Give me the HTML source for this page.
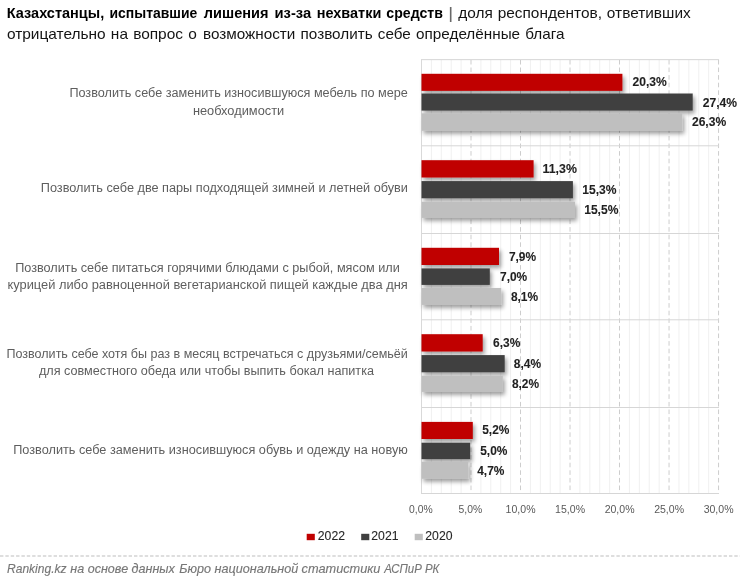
<!DOCTYPE html>
<html lang="ru"><head><meta charset="utf-8"><title>Казахстанцы, испытавшие лишения из-за нехватки средств</title>
<style>
html,body{margin:0;padding:0;background:#fff;}
body{width:740px;height:582px;overflow:hidden;font-family:"Liberation Sans", sans-serif;}
svg{display:block;font-family:"Liberation Sans", sans-serif;}
</style></head><body>
<svg width="740" height="582" viewBox="0 0 740 582">
<defs>
<filter id="sh" x="-25%" y="-60%" width="160%" height="260%"><feGaussianBlur in="SourceAlpha" stdDeviation="2.3"/><feOffset dx="2" dy="2.8"/><feComponentTransfer><feFuncA type="linear" slope="0.38"/></feComponentTransfer><feMerge><feMergeNode/><feMergeNode in="SourceGraphic"/></feMerge></filter>
</defs>
<rect width="740" height="582" fill="#fff"/>
<text x="6.80" y="18.10" font-size="14.2" text-anchor="start" font-weight="bold" font-style="normal" fill="#000" textLength="97.40" lengthAdjust="spacingAndGlyphs">Казахстанцы,</text>
<text x="109.50" y="18.10" font-size="14.2" text-anchor="start" font-weight="bold" font-style="normal" fill="#000" textLength="87.80" lengthAdjust="spacingAndGlyphs">испытавшие</text>
<text x="203.80" y="18.10" font-size="14.2" text-anchor="start" font-weight="bold" font-style="normal" fill="#000" textLength="64.70" lengthAdjust="spacingAndGlyphs">лишения</text>
<text x="274.50" y="18.10" font-size="14.2" text-anchor="start" font-weight="bold" font-style="normal" fill="#000" textLength="36.70" lengthAdjust="spacingAndGlyphs">из-за</text>
<text x="316.70" y="18.10" font-size="14.2" text-anchor="start" font-weight="bold" font-style="normal" fill="#000" textLength="64.60" lengthAdjust="spacingAndGlyphs">нехватки</text>
<text x="386.30" y="18.10" font-size="14.2" text-anchor="start" font-weight="bold" font-style="normal" fill="#000" textLength="56.60" lengthAdjust="spacingAndGlyphs">средств</text>
<text x="448.50" y="18.90" font-size="16.7" text-anchor="start" font-weight="normal" font-style="normal" fill="#6a6a6a" stroke="#6a6a6a" stroke-width="0.2">|</text>
<text x="458.20" y="18.10" font-size="14.2" text-anchor="start" font-weight="normal" font-style="normal" fill="#141414" textLength="232.55" lengthAdjust="spacingAndGlyphs" word-spacing="0.6">доля респондентов, ответивших</text>
<text x="6.90" y="39.10" font-size="14.2" text-anchor="start" font-weight="normal" font-style="normal" fill="#141414" textLength="189.90" lengthAdjust="spacingAndGlyphs" word-spacing="0.8">отрицательно на вопрос о</text>
<text x="203.00" y="39.10" font-size="14.2" text-anchor="start" font-weight="normal" font-style="normal" fill="#141414" textLength="361.50" lengthAdjust="spacingAndGlyphs" word-spacing="0.9">возможности позволить себе определённые блага</text>
<g><line x1="431.40" y1="59.9" x2="431.40" y2="493.5" stroke="#f0f0f0" stroke-width="1"/>
<line x1="441.30" y1="59.9" x2="441.30" y2="493.5" stroke="#f0f0f0" stroke-width="1"/>
<line x1="451.20" y1="59.9" x2="451.20" y2="493.5" stroke="#f0f0f0" stroke-width="1"/>
<line x1="461.11" y1="59.9" x2="461.11" y2="493.5" stroke="#f0f0f0" stroke-width="1"/>
<line x1="471.01" y1="59.9" x2="471.01" y2="493.5" stroke="#cdcdcd" stroke-width="1" stroke-dasharray="4.6 3"/>
<line x1="480.91" y1="59.9" x2="480.91" y2="493.5" stroke="#f0f0f0" stroke-width="1"/>
<line x1="490.81" y1="59.9" x2="490.81" y2="493.5" stroke="#f0f0f0" stroke-width="1"/>
<line x1="500.71" y1="59.9" x2="500.71" y2="493.5" stroke="#f0f0f0" stroke-width="1"/>
<line x1="510.62" y1="59.9" x2="510.62" y2="493.5" stroke="#f0f0f0" stroke-width="1"/>
<line x1="520.52" y1="59.9" x2="520.52" y2="493.5" stroke="#cdcdcd" stroke-width="1" stroke-dasharray="4.6 3"/>
<line x1="530.42" y1="59.9" x2="530.42" y2="493.5" stroke="#f0f0f0" stroke-width="1"/>
<line x1="540.32" y1="59.9" x2="540.32" y2="493.5" stroke="#f0f0f0" stroke-width="1"/>
<line x1="550.22" y1="59.9" x2="550.22" y2="493.5" stroke="#f0f0f0" stroke-width="1"/>
<line x1="560.12" y1="59.9" x2="560.12" y2="493.5" stroke="#f0f0f0" stroke-width="1"/>
<line x1="570.02" y1="59.9" x2="570.02" y2="493.5" stroke="#cdcdcd" stroke-width="1" stroke-dasharray="4.6 3"/>
<line x1="579.93" y1="59.9" x2="579.93" y2="493.5" stroke="#f0f0f0" stroke-width="1"/>
<line x1="589.83" y1="59.9" x2="589.83" y2="493.5" stroke="#f0f0f0" stroke-width="1"/>
<line x1="599.73" y1="59.9" x2="599.73" y2="493.5" stroke="#f0f0f0" stroke-width="1"/>
<line x1="609.63" y1="59.9" x2="609.63" y2="493.5" stroke="#f0f0f0" stroke-width="1"/>
<line x1="619.53" y1="59.9" x2="619.53" y2="493.5" stroke="#cdcdcd" stroke-width="1" stroke-dasharray="4.6 3"/>
<line x1="629.43" y1="59.9" x2="629.43" y2="493.5" stroke="#f0f0f0" stroke-width="1"/>
<line x1="639.34" y1="59.9" x2="639.34" y2="493.5" stroke="#f0f0f0" stroke-width="1"/>
<line x1="649.24" y1="59.9" x2="649.24" y2="493.5" stroke="#f0f0f0" stroke-width="1"/>
<line x1="659.14" y1="59.9" x2="659.14" y2="493.5" stroke="#f0f0f0" stroke-width="1"/>
<line x1="669.04" y1="59.9" x2="669.04" y2="493.5" stroke="#cdcdcd" stroke-width="1" stroke-dasharray="4.6 3"/>
<line x1="678.94" y1="59.9" x2="678.94" y2="493.5" stroke="#f0f0f0" stroke-width="1"/>
<line x1="688.85" y1="59.9" x2="688.85" y2="493.5" stroke="#f0f0f0" stroke-width="1"/>
<line x1="698.75" y1="59.9" x2="698.75" y2="493.5" stroke="#f0f0f0" stroke-width="1"/>
<line x1="708.65" y1="59.9" x2="708.65" y2="493.5" stroke="#f0f0f0" stroke-width="1"/>
<line x1="718.55" y1="59.9" x2="718.55" y2="493.5" stroke="#cdcdcd" stroke-width="1" stroke-dasharray="4.6 3"/>
<line x1="421.0" y1="59.65" x2="719.05" y2="59.65" stroke="#d6d6d6" stroke-width="1"/>
<line x1="421.0" y1="145.80" x2="719.05" y2="145.80" stroke="#d6d6d6" stroke-width="1"/>
<line x1="421.0" y1="233.50" x2="719.05" y2="233.50" stroke="#d6d6d6" stroke-width="1"/>
<line x1="421.0" y1="319.80" x2="719.05" y2="319.80" stroke="#d6d6d6" stroke-width="1"/>
<line x1="421.0" y1="407.50" x2="719.05" y2="407.50" stroke="#d6d6d6" stroke-width="1"/>
<line x1="421.0" y1="493.50" x2="719.05" y2="493.50" stroke="#d6d6d6" stroke-width="1"/>
<line x1="421.5" y1="59.9" x2="421.5" y2="493.5" stroke="#d9d9d9" stroke-width="1"/></g>
<g><rect x="421.5" y="73.80" width="200.90" height="17.05" fill="#c00000" filter="url(#sh)"/>
<rect x="421.5" y="93.50" width="271.20" height="17.10" fill="#404040" filter="url(#sh)"/>
<rect x="421.5" y="113.30" width="260.80" height="17.50" fill="#bfbfbf" filter="url(#sh)"/>
<rect x="421.5" y="160.20" width="112.10" height="17.30" fill="#c00000" filter="url(#sh)"/>
<rect x="421.5" y="181.10" width="151.40" height="17.20" fill="#404040" filter="url(#sh)"/>
<rect x="421.5" y="201.70" width="153.50" height="16.20" fill="#bfbfbf" filter="url(#sh)"/>
<rect x="421.5" y="247.80" width="77.50" height="17.20" fill="#c00000" filter="url(#sh)"/>
<rect x="421.5" y="268.40" width="68.30" height="16.50" fill="#404040" filter="url(#sh)"/>
<rect x="421.5" y="288.00" width="79.70" height="16.90" fill="#bfbfbf" filter="url(#sh)"/>
<rect x="421.5" y="334.20" width="61.20" height="17.30" fill="#c00000" filter="url(#sh)"/>
<rect x="421.5" y="355.10" width="83.20" height="17.20" fill="#404040" filter="url(#sh)"/>
<rect x="421.5" y="375.70" width="81.30" height="16.20" fill="#bfbfbf" filter="url(#sh)"/>
<rect x="421.5" y="421.90" width="51.30" height="17.10" fill="#c00000" filter="url(#sh)"/>
<rect x="421.5" y="442.70" width="48.70" height="16.50" fill="#404040" filter="url(#sh)"/>
<rect x="421.5" y="461.70" width="46.70" height="17.10" fill="#bfbfbf" filter="url(#sh)"/></g>
<g><text x="632.50" y="86.20" font-size="12.7" text-anchor="start" font-weight="bold" font-style="normal" fill="#1f1f1f" textLength="34.30" lengthAdjust="spacingAndGlyphs" stroke="#1f1f1f" stroke-width="0.1">20,3%</text>
<text x="702.81" y="107.00" font-size="12.7" text-anchor="start" font-weight="bold" font-style="normal" fill="#1f1f1f" textLength="34.30" lengthAdjust="spacingAndGlyphs" stroke="#1f1f1f" stroke-width="0.1">27,4%</text>
<text x="691.91" y="126.10" font-size="12.7" text-anchor="start" font-weight="bold" font-style="normal" fill="#1f1f1f" textLength="34.30" lengthAdjust="spacingAndGlyphs" stroke="#1f1f1f" stroke-width="0.1">26,3%</text>
<text x="542.59" y="173.05" font-size="12.7" text-anchor="start" font-weight="bold" font-style="normal" fill="#1f1f1f" textLength="34.30" lengthAdjust="spacingAndGlyphs" stroke="#1f1f1f" stroke-width="0.1">11,3%</text>
<text x="582.20" y="193.90" font-size="12.7" text-anchor="start" font-weight="bold" font-style="normal" fill="#1f1f1f" textLength="34.30" lengthAdjust="spacingAndGlyphs" stroke="#1f1f1f" stroke-width="0.1">15,3%</text>
<text x="584.18" y="214.00" font-size="12.7" text-anchor="start" font-weight="bold" font-style="normal" fill="#1f1f1f" textLength="34.30" lengthAdjust="spacingAndGlyphs" stroke="#1f1f1f" stroke-width="0.1">15,5%</text>
<text x="508.92" y="260.60" font-size="12.7" text-anchor="start" font-weight="bold" font-style="normal" fill="#1f1f1f" textLength="27.20" lengthAdjust="spacingAndGlyphs" stroke="#1f1f1f" stroke-width="0.1">7,9%</text>
<text x="500.01" y="280.85" font-size="12.7" text-anchor="start" font-weight="bold" font-style="normal" fill="#1f1f1f" textLength="27.20" lengthAdjust="spacingAndGlyphs" stroke="#1f1f1f" stroke-width="0.1">7,0%</text>
<text x="510.90" y="300.65" font-size="12.7" text-anchor="start" font-weight="bold" font-style="normal" fill="#1f1f1f" textLength="27.20" lengthAdjust="spacingAndGlyphs" stroke="#1f1f1f" stroke-width="0.1">8,1%</text>
<text x="493.08" y="347.05" font-size="12.7" text-anchor="start" font-weight="bold" font-style="normal" fill="#1f1f1f" textLength="27.20" lengthAdjust="spacingAndGlyphs" stroke="#1f1f1f" stroke-width="0.1">6,3%</text>
<text x="513.87" y="367.90" font-size="12.7" text-anchor="start" font-weight="bold" font-style="normal" fill="#1f1f1f" textLength="27.20" lengthAdjust="spacingAndGlyphs" stroke="#1f1f1f" stroke-width="0.1">8,4%</text>
<text x="511.89" y="388.00" font-size="12.7" text-anchor="start" font-weight="bold" font-style="normal" fill="#1f1f1f" textLength="27.20" lengthAdjust="spacingAndGlyphs" stroke="#1f1f1f" stroke-width="0.1">8,2%</text>
<text x="482.19" y="434.00" font-size="12.7" text-anchor="start" font-weight="bold" font-style="normal" fill="#1f1f1f" textLength="27.20" lengthAdjust="spacingAndGlyphs" stroke="#1f1f1f" stroke-width="0.1">5,2%</text>
<text x="480.21" y="455.00" font-size="12.7" text-anchor="start" font-weight="bold" font-style="normal" fill="#1f1f1f" textLength="27.20" lengthAdjust="spacingAndGlyphs" stroke="#1f1f1f" stroke-width="0.1">5,0%</text>
<text x="477.24" y="474.80" font-size="12.7" text-anchor="start" font-weight="bold" font-style="normal" fill="#1f1f1f" textLength="27.20" lengthAdjust="spacingAndGlyphs" stroke="#1f1f1f" stroke-width="0.1">4,7%</text></g>
<g><text x="69.40" y="97.30" font-size="12" text-anchor="start" font-weight="normal" font-style="normal" fill="#5e5e5e" textLength="338.50" lengthAdjust="spacingAndGlyphs">Позволить себе заменить износившуюся мебель по мере</text>
<text x="192.90" y="114.80" font-size="12" text-anchor="start" font-weight="normal" font-style="normal" fill="#5e5e5e" textLength="91.30" lengthAdjust="spacingAndGlyphs">необходимости</text>
<text x="40.80" y="192.20" font-size="12" text-anchor="start" font-weight="normal" font-style="normal" fill="#5e5e5e" textLength="367.10" lengthAdjust="spacingAndGlyphs">Позволить себе две пары подходящей зимней и летней обуви</text>
<text x="15.20" y="271.80" font-size="12" text-anchor="start" font-weight="normal" font-style="normal" fill="#5e5e5e" textLength="384.60" lengthAdjust="spacingAndGlyphs">Позволить себе питаться горячими блюдами с рыбой, мясом или</text>
<text x="7.50" y="288.90" font-size="12" text-anchor="start" font-weight="normal" font-style="normal" fill="#5e5e5e" textLength="400.30" lengthAdjust="spacingAndGlyphs">курицей либо равноценной вегетарианской пищей каждые два дня</text>
<text x="6.50" y="357.70" font-size="12" text-anchor="start" font-weight="normal" font-style="normal" fill="#5e5e5e" textLength="401.30" lengthAdjust="spacingAndGlyphs">Позволить себе хотя бы раз в месяц встречаться с друзьями/семьёй</text>
<text x="38.90" y="374.70" font-size="12" text-anchor="start" font-weight="normal" font-style="normal" fill="#5e5e5e" textLength="335.10" lengthAdjust="spacingAndGlyphs">для совместного обеда или чтобы выпить бокал напитка</text>
<text x="13.20" y="454.20" font-size="12" text-anchor="start" font-weight="normal" font-style="normal" fill="#5e5e5e" textLength="394.60" lengthAdjust="spacingAndGlyphs">Позволить себе заменить износившуюся обувь и одежду на новую</text></g>
<g><text x="409.10" y="512.60" font-size="11.8" text-anchor="start" font-weight="normal" font-style="normal" fill="#595959" textLength="23.60" lengthAdjust="spacingAndGlyphs">0,0%</text>
<text x="458.61" y="512.60" font-size="11.8" text-anchor="start" font-weight="normal" font-style="normal" fill="#595959" textLength="23.60" lengthAdjust="spacingAndGlyphs">5,0%</text>
<text x="505.62" y="512.60" font-size="11.8" text-anchor="start" font-weight="normal" font-style="normal" fill="#595959" textLength="29.90" lengthAdjust="spacingAndGlyphs">10,0%</text>
<text x="555.12" y="512.60" font-size="11.8" text-anchor="start" font-weight="normal" font-style="normal" fill="#595959" textLength="29.90" lengthAdjust="spacingAndGlyphs">15,0%</text>
<text x="604.63" y="512.60" font-size="11.8" text-anchor="start" font-weight="normal" font-style="normal" fill="#595959" textLength="29.90" lengthAdjust="spacingAndGlyphs">20,0%</text>
<text x="654.14" y="512.60" font-size="11.8" text-anchor="start" font-weight="normal" font-style="normal" fill="#595959" textLength="29.90" lengthAdjust="spacingAndGlyphs">25,0%</text>
<text x="703.65" y="512.60" font-size="11.8" text-anchor="start" font-weight="normal" font-style="normal" fill="#595959" textLength="29.90" lengthAdjust="spacingAndGlyphs">30,0%</text></g>
<g><rect x="306.7" y="533.8" width="8.1" height="6.4" fill="#c00000"/>
<text x="317.80" y="540.40" font-size="13.6" text-anchor="start" font-weight="normal" font-style="normal" fill="#262626" textLength="27.20" lengthAdjust="spacingAndGlyphs" stroke="#262626" stroke-width="0.1">2022</text>
<rect x="361.2" y="533.8" width="8.1" height="6.4" fill="#404040"/>
<text x="371.30" y="540.40" font-size="13.6" text-anchor="start" font-weight="normal" font-style="normal" fill="#262626" textLength="27.20" lengthAdjust="spacingAndGlyphs" stroke="#262626" stroke-width="0.1">2021</text>
<rect x="414.7" y="533.8" width="8.1" height="6.4" fill="#bfbfbf"/>
<text x="425.30" y="540.40" font-size="13.6" text-anchor="start" font-weight="normal" font-style="normal" fill="#262626" textLength="27.20" lengthAdjust="spacingAndGlyphs" stroke="#262626" stroke-width="0.1">2020</text></g>
<line x1="0" y1="556" x2="740" y2="556" stroke="#bdbdbd" stroke-width="1.1" stroke-dasharray="3.4 1.96"/>
<g><text x="7.00" y="572.80" font-size="12.6" text-anchor="start" font-weight="normal" font-style="italic" fill="#777777" textLength="59.60" lengthAdjust="spacingAndGlyphs" stroke="#777777" stroke-width="0.15">Ranking.kz</text>
<text x="70.30" y="572.80" font-size="12.6" text-anchor="start" font-weight="normal" font-style="italic" fill="#777777" textLength="104.60" lengthAdjust="spacingAndGlyphs" stroke="#777777" stroke-width="0.15">на основе данных</text>
<text x="179.30" y="572.80" font-size="12.6" text-anchor="start" font-weight="normal" font-style="italic" fill="#777777" textLength="119.00" lengthAdjust="spacingAndGlyphs" stroke="#777777" stroke-width="0.15">Бюро национальной</text>
<text x="301.60" y="572.80" font-size="12.6" text-anchor="start" font-weight="normal" font-style="italic" fill="#777777" textLength="78.80" lengthAdjust="spacingAndGlyphs" stroke="#777777" stroke-width="0.15">статистики</text>
<text x="384.30" y="572.80" font-size="12.6" text-anchor="start" font-weight="normal" font-style="italic" fill="#777777" textLength="55.00" lengthAdjust="spacingAndGlyphs" stroke="#777777" stroke-width="0.15">АСПиР РК</text></g>
</svg></body></html>
